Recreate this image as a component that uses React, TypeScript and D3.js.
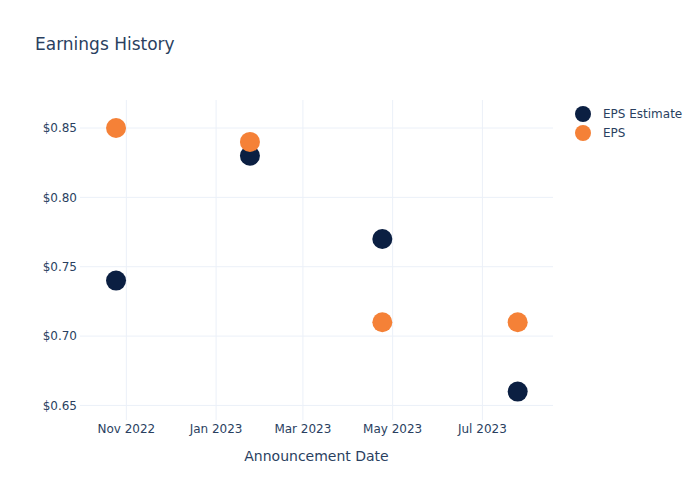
import React from "react";
import * as d3 from "d3";

const dates = ["2022-10-25", "2023-01-24", "2023-04-24", "2023-07-25"];
const epsEstimate = [0.74, 0.83, 0.77, 0.66];
const eps = [0.85, 0.84, 0.71, 0.71];
const yTicks = [0.65, 0.7, 0.75, 0.8, 0.85];
const xTickDates = ["2022-11-01", "2023-01-01", "2023-03-01", "2023-05-01", "2023-07-01"];
const xRange = ["2022-09-30T12:00:00Z", "2023-08-18T00:00:00Z"];
const yRange = [0.6395, 0.8702];
const seriesNames = ["EPS Estimate", "EPS"];
const seriesColors = ["#0b1f42", "#f58137"];

const W = 700;
const H = 500;
const M = { l: 80, r: 147, t: 100, b: 80 };
const FONT = "'DejaVu Sans', Verdana, sans-serif";
const TXT = "#2a3f5f";
const GRID = "#ebf0f8";

export default function App() {
  const parse = (s: string) => new Date(s.length === 10 ? s + "T00:00:00Z" : s);
  const x = d3
    .scaleUtc()
    .domain([parse(xRange[0]), parse(xRange[1])])
    .range([M.l, W - M.r]);
  const y = d3.scaleLinear().domain(yRange).range([H - M.b, M.t]);
  const fmtX = d3.utcFormat("%b %Y");
  const fmtY = (v: number) => "$" + d3.format(".2f")(v);
  const series = [epsEstimate, eps];

  return (
    <svg
      width={W}
      height={H}
      style={{ position: "absolute", left: 0, top: 0, background: "#fff" }}
      fontFamily={FONT}
    >
      <rect x={0} y={0} width={W} height={H} fill="#fff" />
      {yTicks.map((t) => (
        <line key={"gy" + t} x1={M.l} x2={W - M.r} y1={y(t)} y2={y(t)} stroke={GRID} strokeWidth={1} />
      ))}
      {xTickDates.map((d) => (
        <line key={"gx" + d} x1={x(parse(d))} x2={x(parse(d))} y1={M.t} y2={H - M.b} stroke={GRID} strokeWidth={1} />
      ))}
      {yTicks.map((t) => (
        <text key={"ty" + t} x={M.l - 3} y={y(t)} dy="0.35em" textAnchor="end" fontSize={12} fill={TXT}>
          {fmtY(t)}
        </text>
      ))}
      {xTickDates.map((d) => (
        <text key={"tx" + d} x={x(parse(d))} y={H - M.b + 13} textAnchor="middle" fontSize={12} fill={TXT}>
          {fmtX(parse(d))}
        </text>
      ))}
      {series.map((vals, si) =>
        vals.map((v, i) => (
          <circle
            key={"p" + si + "-" + i}
            cx={x(parse(dates[i]))}
            cy={y(v)}
            r={10}
            fill={seriesColors[si]}
          />
        ))
      )}
      <text x={35} y={50} fontSize={17} fill={TXT}>
        Earnings History
      </text>
      <text x={(M.l + W - M.r) / 2} y={461} textAnchor="middle" fontSize={14} fill={TXT}>
        Announcement Date
      </text>
      {seriesNames.map((n, i) => (
        <g key={"lg" + n} transform={`translate(583,${114 + i * 19})`}>
          <circle cx={0} cy={0} r={8} fill={seriesColors[i]} />
          <text x={20} y={0} dy="0.35em" fontSize={12} fill={TXT}>
            {n}
          </text>
        </g>
      ))}
    </svg>
  );
}
